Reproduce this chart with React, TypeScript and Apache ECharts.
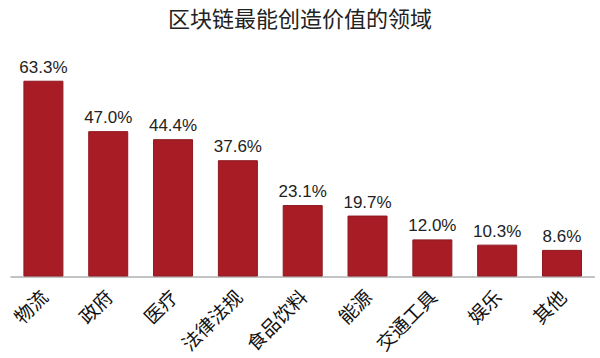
import React, { useEffect, useRef } from "react";
import * as echarts from "echarts";

const titleText = "区块链最能创造价值的领域";
const categories = ["物流", "政府", "医疗", "法律法规", "食品饮料", "能源", "交通工具", "娱乐", "其他"];
const values = [63.3, 47.0, 44.4, 37.6, 23.1, 19.7, 12.0, 10.3, 8.6];

const FONT = '"Liberation Sans", Arial, "Noto Sans CJK SC", sans-serif';

export default function App() {
  const ref = useRef<HTMLDivElement>(null);
  useEffect(() => {
    if (!ref.current) return;
    const chart = echarts.init(ref.current, undefined, { renderer: "svg" });
    chart.setOption({
      animation: false,
      backgroundColor: "#ffffff",
      title: {
        text: titleText,
        left: "center",
        top: 1,
        textStyle: {
          fontFamily: '"Noto Sans CJK SC", sans-serif',
          fontSize: 22,
          fontWeight: "normal",
          color: "#222222",
        },
      },
      grid: { left: 11, right: 5.6, top: 60, bottom: 81.5, containLabel: false },
      xAxis: {
        type: "category",
        data: categories,
        axisLine: { show: true, lineStyle: { color: "#b0b0b0", width: 1.5 } },
        axisTick: { show: false },
        axisLabel: {
          rotate: 45,
          interval: 0,
          margin: 16,
          fontSize: 19,
          color: "#111111",
          fontFamily: '"Noto Sans CJK SC", sans-serif',
        },
      },
      yAxis: {
        type: "value",
        min: 0,
        max: 70,
        show: false,
        splitLine: { show: false },
      },
      series: [
        {
          type: "bar",
          data: values,
          barWidth: 40,
          itemStyle: { color: "#a81c26", borderColor: "#8e1820", borderWidth: 1 },
          label: {
            show: true,
            position: "top",
            distance: 5,
            fontSize: 17,
            color: "#222222",
            fontFamily: FONT,
            formatter: (p: any) => Number(p.value).toFixed(1) + "%",
          },
        },
      ],
    });
    return () => chart.dispose();
  }, []);
  return (
    <div
      ref={ref}
      style={{ position: "fixed", left: 0, top: 0, width: 600, height: 358, background: "#fff" }}
    />
  );
}
